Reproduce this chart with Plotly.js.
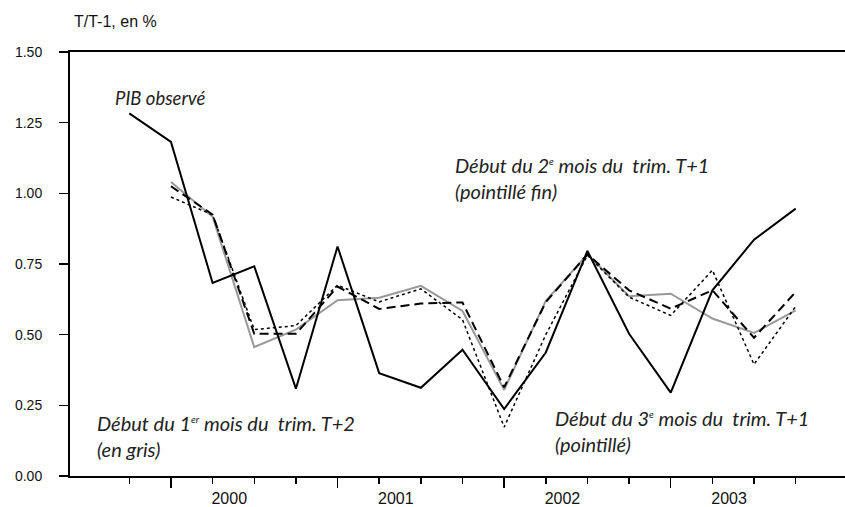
<!DOCTYPE html>
<html>
<head>
<meta charset="utf-8">
<script src="https://cdn.plot.ly/plotly-3.0.1.min.js"></script>
<style>html,body{margin:0;padding:0;background:#fff}#chart{width:845px;height:507px}</style>
</head>
<body>
<div id="chart"></div>
<script>
// Quarters as decimal years (Q1 = .00, Q2 = .25, Q3 = .50, Q4 = .75)
var quartersPib = [1999.75,
  2000.00, 2000.25, 2000.50, 2000.75,
  2001.00, 2001.25, 2001.50, 2001.75,
  2002.00, 2002.25, 2002.50, 2002.75,
  2003.00, 2003.25, 2003.50, 2003.75];
var quarters = quartersPib.slice(1);

// PIB observé (T/T-1, %)
var pibObserve = [1.283,
  1.182, 0.683, 0.742, 0.309,
  0.812, 0.364, 0.312, 0.447,
  0.237, 0.437, 0.796, 0.503,
  0.295, 0.657, 0.836, 0.946];

// Début du 1er mois du trim. T+2 (gris)
var debut1erMoisT2 = [1.040, 0.917, 0.456, 0.518,
  0.622, 0.631, 0.673, 0.584,
  0.305, 0.620, 0.784, 0.636,
  0.645, 0.557, 0.506, 0.586];

// Début du 3e mois du trim. T+1 (pointillé = tirets)
var debut3eMoisT1 = [1.025, 0.925, 0.503, 0.503,
  0.670, 0.591, 0.610, 0.614,
  0.314, 0.615, 0.784, 0.657,
  0.592, 0.657, 0.489, 0.651];

// Début du 2e mois du trim. T+1 (pointillé fin)
var debut2eMoisT1 = [0.987, 0.924, 0.518, 0.532,
  0.675, 0.616, 0.662, 0.553,
  0.173, 0.500, 0.781, 0.633,
  0.568, 0.728, 0.395, 0.600];

var years = [2000, 2001, 2002, 2003];
var yearLabels = ['2000', '2001', '2002', '2003'];
var yTicks = [0, 0.25, 0.5, 0.75, 1.0, 1.25, 1.5];

var traces = [
  {x: quarters, y: debut1erMoisT2, mode: 'lines', line: {color: '#999999', width: 2}, hoverinfo: 'skip'},
  {x: quarters, y: debut2eMoisT1, mode: 'lines', line: {color: '#000', width: 1.5, dash: 'dot'}, hoverinfo: 'skip'},
  {x: quarters, y: debut3eMoisT1, mode: 'lines', line: {color: '#000', width: 2, dash: '9px,5px'}, hoverinfo: 'skip'},
  {x: quartersPib, y: pibObserve, mode: 'lines', line: {color: '#000', width: 2}, hoverinfo: 'skip'},
  {x: [years[0]], y: [null], xaxis: 'x2', yaxis: 'y', showlegend: false, hoverinfo: 'skip'}
];

var xr = [1999.394, 2004.046];
var annFont = {family: 'Lato, "Open Sans", sans-serif', size: 20, color: '#222', style: 'italic'};
var sup = function(s){ return '<sup><span style="font-size:10px">' + s + '</span></sup>'; };

var layout = {
  width: 845, height: 507,
  margin: {l: 70, r: 0, t: 52, b: 31},
  paper_bgcolor: '#fff', plot_bgcolor: '#fff',
  showlegend: false,
  xaxis: {
    range: xr, showgrid: false, zeroline: false,
    showline: true, linecolor: '#000', linewidth: 2, mirror: true,
    tickmode: 'array', tickvals: years, ticks: 'outside', ticklen: 10, tickwidth: 1.5, tickcolor: '#000',
    showticklabels: false,
    minor: {tickmode: 'array', tickvals: quarters.concat([1999.75]), ticks: 'outside', ticklen: 6, tickwidth: 1.5, tickcolor: '#000', showgrid: false}
  },
  xaxis2: {
    range: xr, overlaying: 'x', anchor: 'y', side: 'bottom',
    showgrid: false, zeroline: false, showline: false, ticks: '',
    tickmode: 'array', tickvals: years.map(function(v){return v + 0.35;}), ticktext: yearLabels,
    tickfont: {family: '"Liberation Sans", Arial, sans-serif', size: 16, color: '#111'},
    ticklabelstandoff: 11
  },
  yaxis: {
    range: [0, 1.5], showgrid: false, zeroline: false,
    showline: true, linecolor: '#000', linewidth: 2,
    tickmode: 'array', tickvals: yTicks, ticks: 'outside', ticklen: 9, tickwidth: 1.5, tickcolor: '#000',
    tickformat: '.2f',
    tickfont: {family: '"Liberation Sans", Arial, sans-serif', size: 14, color: '#111'},
    ticklabelstandoff: 14
  },
  annotations: [
    {xref: 'paper', yref: 'paper', x: 0.0026, y: 1.071, xanchor: 'left', yanchor: 'middle', showarrow: false,
     text: 'T/T-1, en %', font: {family: '"Liberation Sans", Arial, sans-serif', size: 16, color: '#111'}},
    {xref: 'x', yref: 'y', x: 1999.652, y: 1.337, xanchor: 'left', yanchor: 'middle', showarrow: false,
     text: 'PIB observé', font: {family: 'Lato, "Open Sans", sans-serif', size: 18.5, color: '#222', style: 'italic'}},
    {xref: 'x', yref: 'y', x: 2001.693, y: 1.055, xanchor: 'left', yanchor: 'middle', align: 'left', showarrow: false,
     text: 'Début du 2' + sup('e') + ' mois du&nbsp; trim. T+1<br>(pointillé fin)', font: annFont},
    {xref: 'x', yref: 'y', x: 1999.544, y: 0.140, xanchor: 'left', yanchor: 'middle', align: 'left', showarrow: false,
     text: 'Début du 1' + sup('er') + ' mois du&nbsp; trim. T+2<br>(en gris)', font: annFont},
    {xref: 'x', yref: 'y', x: 2002.293, y: 0.159, xanchor: 'left', yanchor: 'middle', align: 'left', showarrow: false,
     text: 'Début du 3' + sup('e') + ' mois du&nbsp; trim. T+1<br>(pointillé)', font: annFont}
  ]
};

Plotly.newPlot('chart', traces, layout, {staticPlot: true, displayModeBar: false});
</script>
</body>
</html>
